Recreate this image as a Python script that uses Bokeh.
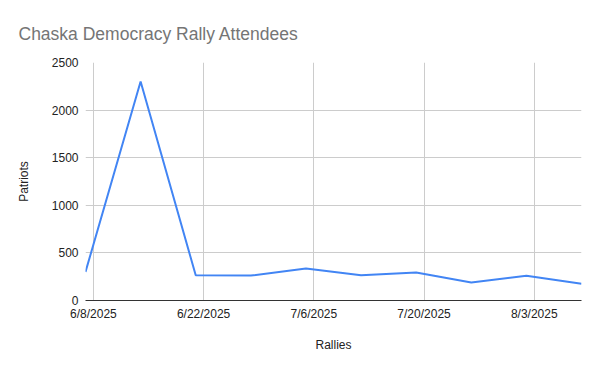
import pandas as pd
from bokeh.plotting import figure
from bokeh.models import Range1d, FixedTicker
from bokeh.embed import file_html
from bokeh.resources import INLINE

# Data
rally_dates = ["2025-06-07", "2025-06-14", "2025-06-21", "2025-06-28", "2025-07-05",
               "2025-07-12", "2025-07-19", "2025-07-26", "2025-08-02", "2025-08-09"]
attendees = [300, 2300, 265, 262, 335, 265, 295, 190, 260, 175]
tick_dates = ["2025-06-08", "2025-06-22", "2025-07-06", "2025-07-20", "2025-08-03"]
tick_labels = ["6/8/2025", "6/22/2025", "7/6/2025", "7/20/2025", "8/3/2025"]
y_ticks = [0, 500, 1000, 1500, 2000, 2500]


def to_ms(s):
    return float((pd.Timestamp(s) - pd.Timestamp("1970-01-01")) / pd.Timedelta(milliseconds=1))


x = [to_ms(d) for d in rally_dates]
tx = [to_ms(d) for d in tick_dates]

p = figure(
    output_backend="svg", toolbar_location=None,
    x_axis_type="datetime",
    x_range=Range1d(x[0], x[-1]), y_range=Range1d(y_ticks[0], y_ticks[-1]),
    frame_width=496, frame_height=238,
    min_border_left=85, min_border_right=19, min_border_top=62, min_border_bottom=71,
    title="Chaska Democracy Rally Attendees",
)
p.outline_line_color = None
p.background_fill_color = "white"
p.border_fill_color = "white"

t = p.title
t.align = "left"
t.offset = -67
t.standoff = 38
t.text_font = "Liberation Sans"
t.text_font_size = "17.5px"
t.text_font_style = "normal"
t.text_color = "#757575"

p.line(x, attendees, line_color="#4285F4", line_width=2)

label_font = "Liberation Sans"

xa = p.xaxis[0]
xa.ticker = FixedTicker(ticks=tx)
xa.major_label_overrides = {v: l for v, l in zip(tx, tick_labels)}
xa.axis_line_color = "#333333"
xa.major_tick_line_color = None
xa.minor_tick_line_color = None
xa.major_tick_out = 0
xa.major_tick_in = 0
xa.major_label_standoff = 6
xa.major_label_text_font = label_font
xa.major_label_text_font_size = "12px"
xa.major_label_text_color = "#222222"
xa.axis_label = "Rallies"
xa.axis_label_text_font = label_font
xa.axis_label_text_font_size = "12px"
xa.axis_label_text_font_style = "normal"
xa.axis_label_text_color = "#222222"
xa.axis_label_standoff = 14

ya = p.yaxis[0]
ya.ticker = FixedTicker(ticks=y_ticks)
ya.axis_line_color = None
ya.major_tick_line_color = None
ya.minor_tick_line_color = None
ya.major_tick_out = 0
ya.major_tick_in = 0
ya.major_label_standoff = 7
ya.major_label_text_font = label_font
ya.major_label_text_font_size = "12px"
ya.major_label_text_color = "#222222"
ya.axis_label = "Patriots"
ya.axis_label_text_font = label_font
ya.axis_label_text_font_size = "12px"
ya.axis_label_text_font_style = "normal"
ya.axis_label_text_color = "#222222"
ya.axis_label_standoff = 18

p.xgrid.grid_line_color = "#cccccc"
p.ygrid.grid_line_color = "#cccccc"

open("out.html", "w").write(file_html(p, INLINE))
